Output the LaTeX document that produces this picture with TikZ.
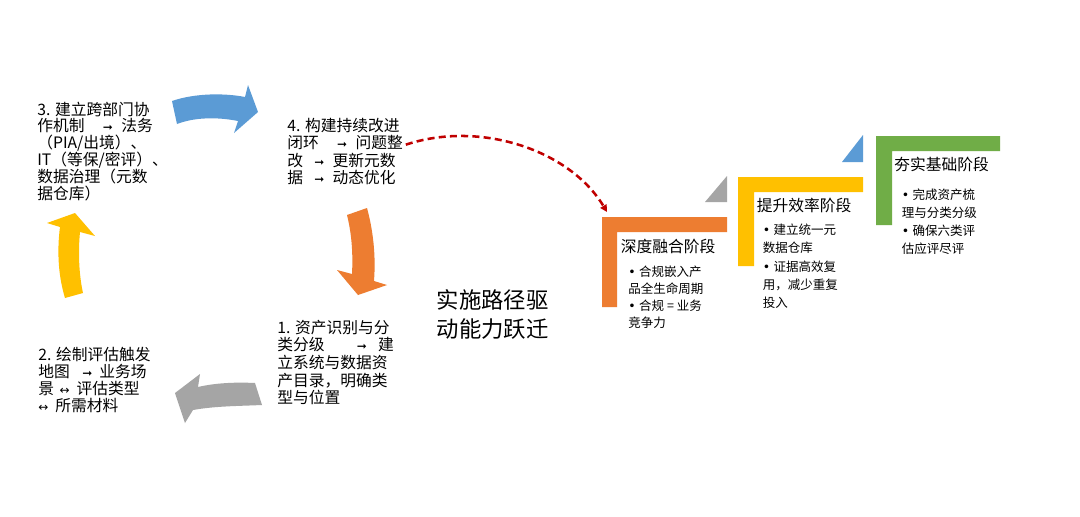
\documentclass[tikz,border=0pt]{standalone}
\usepackage{fontspec}
\setmainfont{Noto Sans CJK SC}
\newfontfamily\arrowfont{DejaVu Sans}
\usetikzlibrary{arrows.meta}

\definecolor{officeBlue}{HTML}{5B9BD5}
\definecolor{officeOrange}{HTML}{ED7D31}
\definecolor{officeGray}{HTML}{A5A5A5}
\definecolor{officeGold}{HTML}{FFC000}
\definecolor{officeGreen}{HTML}{70AD47}
\definecolor{linkRed}{HTML}{C00000}

\newcommand{\goArrow}{{\arrowfont\fontsize{8.5}{8.5}\selectfont ➞}}
\newcommand{\bothArrow}{{\arrowfont\fontsize{8.5}{8.5}\selectfont ↔}}
\newcommand{\bul}{{\arrowfont •}\hspace{2.5pt}}

\tikzset{
  steptext/.style={anchor=north west, inner sep=0pt, align=left},
  stagetitle/.style={anchor=north west, inner sep=0pt, font=\fontsize{11.2}{12}\selectfont},
  stagelist/.style={anchor=north west, inner sep=0pt, align=left}
}

\begin{document}
\begin{tikzpicture}[x=0.025cm, y=-0.025cm]
    % Fix the page to the reference size
    \path[fill=white] (0,0) rectangle (1080,516);
    \useasboundingbox (0,0) rectangle (1080,516);

    % Curved block arrows of the cycle
    % Blue arrow (3 -> 4)
    \fill[officeBlue] (172,101) .. controls (195,93) and (225,93) .. (245,97)
      -- (248,85) -- (258,112) -- (234,133) -- (238,121)
      .. controls (218,117) and (195,117) .. (177,124) -- cycle;
    % Orange arrow (4 -> 1)
    \fill[officeOrange] (347,215) .. controls (352,235) and (353,255) .. (352,274)
      -- (337,270) -- (358,295) -- (387,285) -- (374,281)
      .. controls (376,255) and (373,230) .. (367,208) -- cycle;
    % Gray arrow (1 -> 2)
    \fill[officeGray] (255,383) .. controls (235,382) and (215,383) .. (198,387)
      -- (200,374) -- (175,393) -- (185,423) -- (193,410)
      .. controls (215,406) and (240,406) .. (262,405) -- cycle;
    % Yellow arrow (2 -> 3)
    \fill[officeGold] (65,298) .. controls (58,275) and (57,250) .. (60,227)
      -- (47,223) -- (75,213) -- (95,236) -- (80,232)
      .. controls (78,252) and (79,275) .. (83,293) -- cycle;

    % Step texts of the cycle
    \node[steptext, font=\fontsize{11.2}{11.95}\selectfont] (step3) at (37,101.5)
      {3. 建立跨部门协\\作机制\hspace{13pt}\goArrow\hspace{6pt}法务\\（PIA/出境）、\\IT（等保/密评）、\\数据治理（元数\\据仓库）};
    \node[steptext, font=\fontsize{11.2}{12.4}\selectfont] (step4) at (287,118)
      {4. 构建持续改进\\闭环\hspace{13pt}\goArrow\hspace{6pt}问题整\\改\hspace{8pt}\goArrow\hspace{6pt}更新元数\\据\hspace{8pt}\goArrow\hspace{6pt}动态优化};
    \node[steptext, font=\fontsize{11.2}{12.6}\selectfont] (step1) at (277,319.5)
      {1. 资产识别与分\\类分级\hspace{23pt}\goArrow\hspace{8pt}建\\立系统与数据资\\产目录，明确类\\型与位置};
    \node[steptext, font=\fontsize{11.2}{11.9}\selectfont] (step2) at (38,347.3)
      {2. 绘制评估触发\\地图\hspace{9pt}\goArrow\hspace{5pt}业务场\\景\hspace{4pt}\bothArrow\hspace{5pt}评估类型\\\bothArrow\hspace{5pt}所需材料};

    % Centre caption
    \node[steptext, font=\fontsize{15.9}{20.8}\selectfont] (caption) at (436.5,289.5)
      {实施路径驱\\动能力跃迁};

    % Stage stairs: L-shaped bars and the small corner triangles
    \fill[officeOrange] (602,217) -- (727,217) -- (727,232) -- (617,232) -- (617,307) -- (602,307) -- cycle;
    \fill[officeGray] (705,202) -- (727,202) -- (727,176) -- cycle;
    \fill[officeGold] (738,177) -- (863,177) -- (863,192) -- (754,192) -- (754,266) -- (738,266) -- cycle;
    \fill[officeBlue] (842,162) -- (863,162) -- (863,135) -- cycle;
    \fill[officeGreen] (876,136) -- (1000,136) -- (1000,151) -- (892,151) -- (892,225) -- (876,225) -- cycle;
    \coordinate (deepCorner) at (607,212);

    % Stage titles and bullet lists
    \node[stagetitle] (deep) at (620.5,238.8) {深度融合阶段};
    \node[stagelist, font=\fontsize{8.9}{12.1}\selectfont] (deepList) at (628,265.4)
      {\bul 合规嵌入产\\品全生命周期\\\bul 合规 = 业务\\竞争力};
    \node[stagetitle] (boost) at (756.5,198) {提升效率阶段};
    \node[stagelist, font=\fontsize{8.9}{13}\selectfont] (boostList) at (762.5,223.7)
      {\bul 建立统一元\\数据仓库\\\bul 证据高效复\\用，减少重复\\投入};
    \node[stagetitle] (base) at (894,157) {夯实基础阶段};
    \node[stagelist, font=\fontsize{8.9}{12.7}\selectfont] (baseList) at (901.5,188.7)
      {\bul 完成资产梳\\理与分类分级\\\bul 确保六类评\\估应评尽评};

    % Dashed link from the cycle to the first stage
    \draw[linkRed, line width=1.8pt, dash pattern=on 5pt off 3pt,
          -{Triangle[length=5pt, width=5pt]}]
      ([xshift=2pt, yshift=5pt]step4.east) .. controls (480,120) and (570,150) .. (deepCorner);

\end{tikzpicture}
\end{document}
